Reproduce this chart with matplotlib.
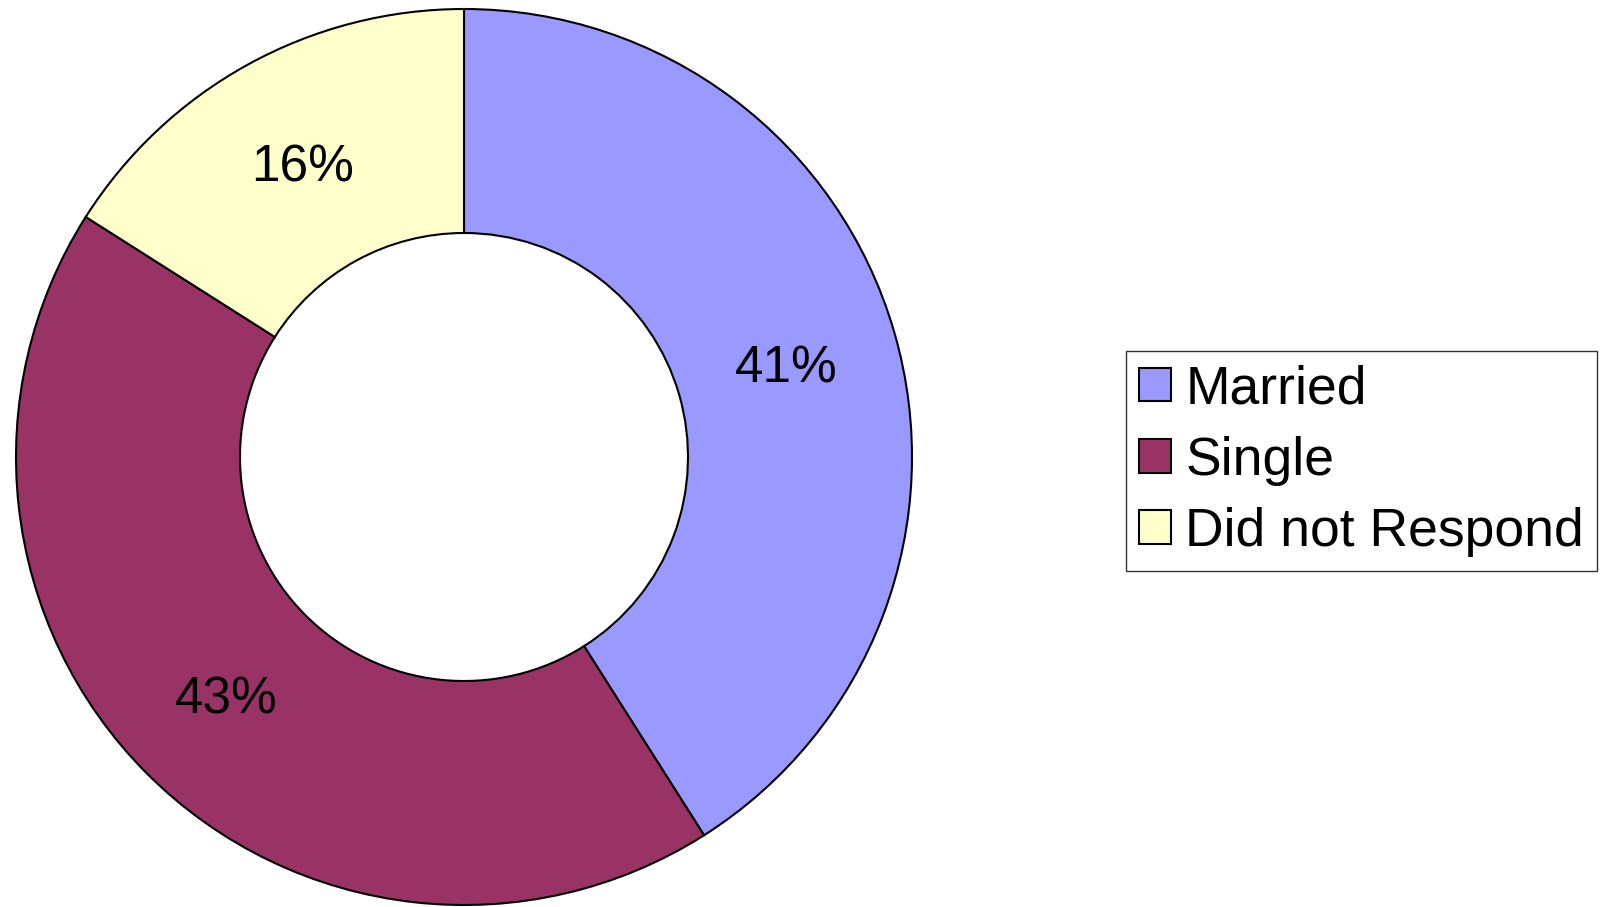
import matplotlib
matplotlib.use("Agg")
import matplotlib.pyplot as plt
from matplotlib.patches import Patch

labels = ["Married", "Single", "Did not Respond"]
values = [41, 43, 16]
colors = ["#9999FF", "#993366", "#FFFFCC"]

plt.rcParams['font.family'] = ['Liberation Sans', 'DejaVu Sans']

W, H = 1603, 907
fig = plt.figure(figsize=(W / 100, H / 100), dpi=100)
cx, cy, R = 464, 907 - 457, 448
ax = fig.add_axes([(cx - R) / W, (cy - R) / H, 2 * R / W, 2 * R / H])

wedges, texts, autotexts = ax.pie(
    values, colors=colors, startangle=90, counterclock=False, radius=1,
    autopct=lambda p: f"{p:.0f}%", pctdistance=0.75,
    wedgeprops=dict(width=0.5, edgecolor='black', linewidth=1.5),
    textprops=dict(fontsize=37, color='black'))
for t in autotexts:
    t.set_va('center_baseline')
ax.set_xlim(-1, 1)
ax.set_ylim(-1, 1)
ax.set_aspect('equal')
ax.axis('off')

handles = [Patch(facecolor=c, edgecolor='black', linewidth=1.5) for c in colors]
leg = fig.legend(handles, labels, loc='upper left',
                 bbox_to_anchor=(1126 / W, (907 - 351) / H),
                 fontsize=38.5, frameon=True, fancybox=False,
                 handlelength=0.6, handleheight=0.6, handletextpad=0.26,
                 labelspacing=0.4, borderpad=0.25, borderaxespad=0)
leg.get_frame().set_edgecolor('black')
leg.get_frame().set_linewidth(1.0)

fig.savefig("out.png", dpi=100)
